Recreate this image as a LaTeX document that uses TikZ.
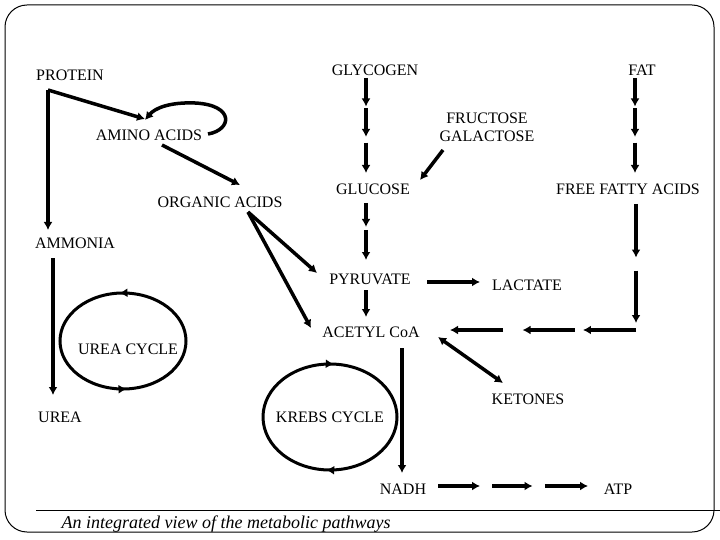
\documentclass[tikz,border=0pt]{standalone}
\usepackage{fontspec}
\setmainfont{Liberation Serif}
\newfontfamily\diagfont{Liberation Serif}
\usetikzlibrary{calc,arrows.meta,decorations.markings}

\tikzset{
  lbl/.style={font=\diagfont\fontsize{16}{18}\selectfont, inner sep=0pt},
  arr/.style={line width=3.5pt, ->},
  cyc/.style={line width=3pt},
  >={Latex[length=8pt,width=9pt]}
}

\begin{document}
\begin{tikzpicture}[x=1pt,y=-1pt]
        \useasboundingbox (0,0) rectangle (720,540);
        \draw[line width=1pt, rounded corners=22pt] (5,5) rectangle (714,532);
        \draw[line width=1pt] (36,510) -- (720,510);
        \node[lbl] (protein) at (70,75) {PROTEIN};
        \node[lbl] (glycogen) at (375,70) {GLYCOGEN};
        \node[lbl] (fat) at (642,70) {FAT};
        \node[lbl,align=center] (fructose) at (487,127) {FRUCTOSE\\GALACTOSE};
        \node[lbl] (amino) at (149,135) {AMINO ACIDS};
        \node[lbl] (organic) at (220,202) {ORGANIC ACIDS};
        \node[lbl] (glucose) at (373,189) {GLUCOSE};
        \node[lbl] (ffa) at (628,189) {FREE FATTY ACIDS};
        \node[lbl] (ammonia) at (75,243) {AMMONIA};
        \node[lbl] (pyruvate) at (370,279) {PYRUVATE};
        \node[lbl] (lactate) at (527,285) {LACTATE};
        \node[lbl] (acetyl) at (371,332) {ACETYL CoA};
        \node[lbl] (ureacycle) at (128,349) {UREA CYCLE};
        \node[lbl] (ketones) at (528,399) {KETONES};
        \node[lbl] (urea) at (60,417) {UREA};
        \node[lbl] (krebs) at (330,417) {KREBS CYCLE};
        \node[lbl] (nadh) at (403,489) {NADH};
        \node[lbl] (atp) at (618,489) {ATP};
        \node[lbl,font=\diagfont\fontsize{18}{20}\selectfont\itshape] (caption) at (226,524) {An integrated view of the metabolic pathways};

        \coordinate (pbend) at ($(protein)+(-22,15)$);
        \draw[arr] (pbend) -- ($(amino)+(-4,-16)$);
        \draw[arr] (pbend) -- ($(ammonia)+(-27,-13)$);
        \draw[arr] ($(amino)+(59,-1)$) .. controls ($(amino)+(83,-5)$) and ($(amino)+(86,-30)$) .. ($(amino)+(46,-32)$)
              .. controls ($(amino)+(21,-33)$) and ($(amino)+(6,-27)$) .. ($(amino)+(-4,-15)$);
        \draw[arr] ($(amino)+(13,10)$) -- ($(organic)+(20,-17)$);
        \draw[arr] ($(organic)+(28,10)$) -- ($(pyruvate)+(-53,-6)$);
        \draw[arr] ($(organic)+(28,10)$) -- ($(acetyl)+(-60,-4)$);
        \draw[arr] ($(fructose)+(-44,23)$) -- ($(glucose)+(47,-9)$);
        \draw[arr] ($(pyruvate)+(57,3)$) -- ($(lactate)+(-47,-3)$);
        \draw[arr] ($(pyruvate)+(-4,11)$) -- ($(acetyl)+(-5,-15)$);
        \draw[arr,<->] ($(acetyl)+(67,5)$) -- ($(ketones)+(-25,-16)$);
        \draw[arr] ($(acetyl)+(31,16)$) -- ($(nadh)+(-1,-16)$);
        \draw[arr] ($(ammonia)+(-22,15)$) -- ($(urea)+(-7,-22)$);

        \coordinate (g0) at ($(glycogen)+(-9,8)$);
        \coordinate (g1) at ($(glucose)+(-7,-16)$);
        \foreach \p/\q in {0/0.30,0.32/0.62,0.68/1}
            \draw[arr] ($(g0)!\p!(g1)$) -- ($(g0)!\q!(g1)$);
        \coordinate (u0) at ($(glucose)+(-7,14)$);
        \coordinate (u1) at ($(pyruvate)+(-4,-19)$);
        \foreach \p/\q in {0/0.42,0.47/1}
            \draw[arr] ($(u0)!\p!(u1)$) -- ($(u0)!\q!(u1)$);
        \coordinate (f0) at ($(fat)+(-7,8)$);
        \coordinate (f1) at ($(ffa)+(7,-16)$);
        \foreach \p/\q in {0/0.30,0.32/0.62,0.68/1}
            \draw[arr] ($(f0)!\p!(f1)$) -- ($(f0)!\q!(f1)$);
        \coordinate (fcorner) at ($(ffa)+(8,141)$);
        \coordinate (v0) at ($(ffa)+(8,15)$);
        \coordinate (v1) at ($(fcorner)+(0,-7)$);
        \foreach \p/\q in {0/0.45,0.56/1}
            \draw[arr] ($(v0)!\p!(v1)$) -- ($(v0)!\q!(v1)$);
        \coordinate (h1) at ($(acetyl)+(79,-2)$);
        \foreach \p/\q in {0/0.285,0.33/0.61,0.715/1}
            \draw[arr] ($(fcorner)!\p!(h1)$) -- ($(fcorner)!\q!(h1)$);
        \coordinate (n0) at ($(nadh)+(35,-3)$);
        \coordinate (n1) at ($(atp)+(-30,-3)$);
        \foreach \p/\q in {0/0.28,0.36/0.63,0.713/1}
            \draw[arr] ($(n0)!\p!(n1)$) -- ($(n0)!\q!(n1)$);

        \draw[cyc,postaction={decorate},decoration={markings,
              mark=at position 0.26 with {\arrow{>}},
              mark=at position 0.76 with {\arrow{>}}}]
              ($(ureacycle)+(-5,-8)$) ellipse [x radius=63pt, y radius=48pt];
        \draw[cyc,postaction={decorate},decoration={markings,
              mark=at position 0.24 with {\arrowreversed{>}},
              mark=at position 0.74 with {\arrowreversed{>}}}]
              (krebs) ellipse [x radius=67pt, y radius=53pt];
\end{tikzpicture}
\end{document}
